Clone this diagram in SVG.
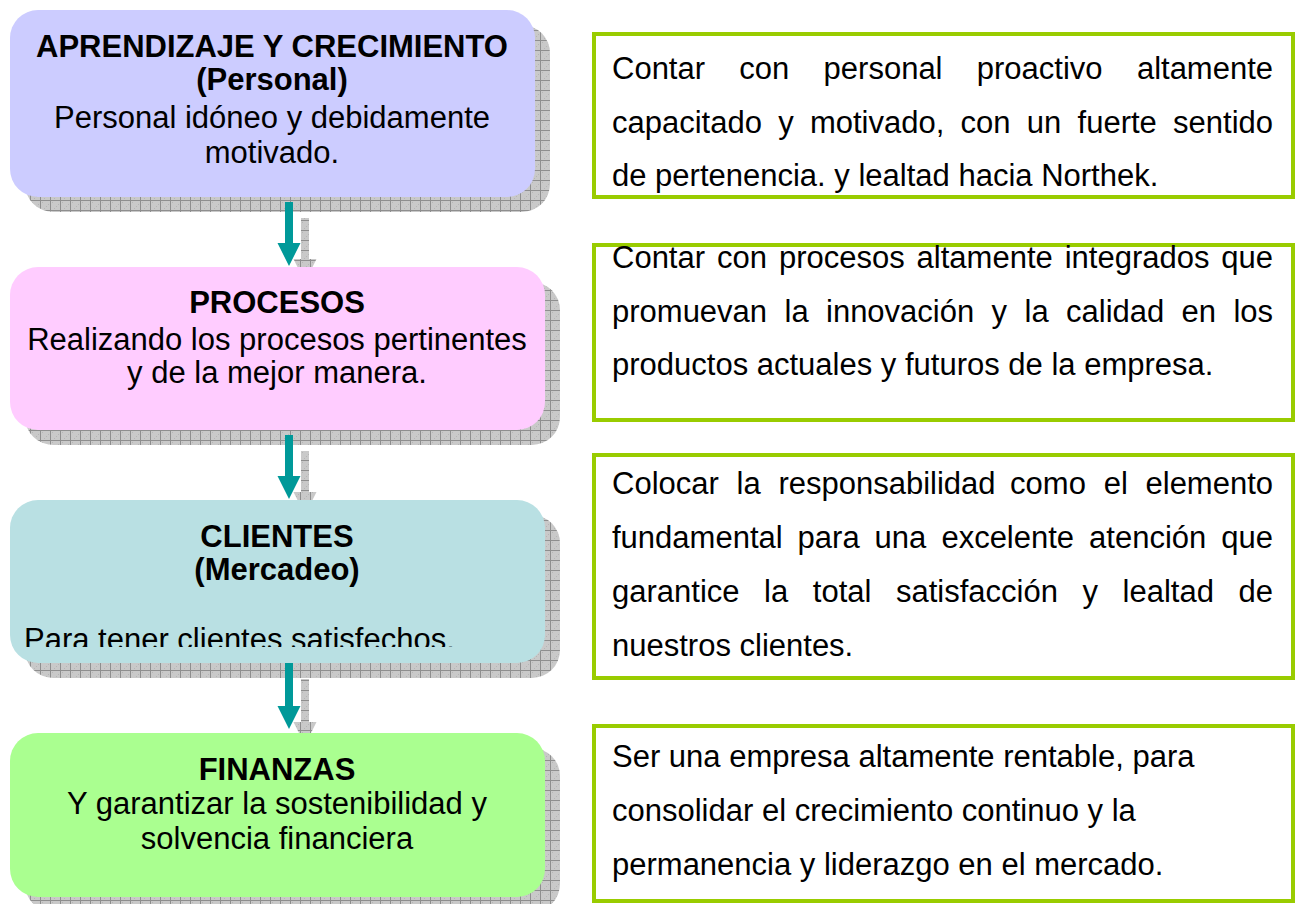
<svg xmlns="http://www.w3.org/2000/svg" width="1298" height="904" viewBox="0 0 1298 904">
<defs>
<pattern id="grid" patternUnits="userSpaceOnUse" width="10" height="10">
<rect width="10" height="10" fill="#c9c9c9"/>
<rect x="2" y="2" width="1" height="1" fill="#b5b5b5"/><rect x="6" y="6" width="1" height="1" fill="#b5b5b5"/>
<rect x="4" y="8" width="1" height="1" fill="#b5b5b5"/><rect x="8" y="4" width="1" height="1" fill="#b5b5b5"/>
<path d="M0 0.5H10M0.5 0V10" stroke="#8e8e8e" stroke-width="1"/>
</pattern>
<clipPath id="clipC"><rect x="10" y="500" width="535" height="147"/></clipPath>
</defs>
<style>
.t{font-family:"Liberation Sans",Arial,sans-serif;font-size:31px;fill:#000}
.b{font-weight:bold}
.c{text-anchor:middle}
.sh{fill:url(#grid)}
.obj{fill:#fff;stroke:#99cc00;stroke-width:4}
.arr{fill:#009999}
</style>
<rect width="1298" height="904" fill="#fff"/>

<g id="node-aprendizaje">
<rect class="sh" x="25" y="25" width="525" height="187" rx="28"/>
<rect x="10" y="10" width="525" height="187" rx="28" fill="#ccccff"/>
<text class="t b c" x="272" y="57">APRENDIZAJE Y CRECIMIENTO</text>
<text class="t b c" x="272" y="90">(Personal)</text>
<text class="t c" x="272" y="128">Personal idóneo y debidamente</text>
<text class="t c" x="272" y="163">motivado.</text>
</g>

<g id="node-procesos">
<rect class="sh" x="25" y="282" width="535" height="163" rx="28"/>
<rect x="10" y="267" width="535" height="163" rx="28" fill="#ffccff"/>
<text class="t b c" x="277" y="313">PROCESOS</text>
<text class="t c" x="277" y="350">Realizando los procesos pertinentes</text>
<text class="t c" x="277" y="383">y de la mejor manera.</text>
</g>

<g id="node-clientes">
<rect class="sh" x="25" y="515" width="535" height="163" rx="28"/>
<rect x="10" y="500" width="535" height="163" rx="28" fill="#b9e0e3"/>
<text class="t b c" x="277" y="547">CLIENTES</text>
<text class="t b c" x="277" y="580">(Mercadeo)</text>
<text class="t" x="24" y="650" clip-path="url(#clipC)">Para tener clientes satisfechos.</text>
</g>

<g id="node-finanzas">
<rect class="sh" x="25" y="748" width="535" height="164" rx="28"/>
<rect x="10" y="733" width="535" height="164" rx="28" fill="#aaff90"/>
<text class="t b c" x="277" y="780">FINANZAS</text>
<text class="t c" x="277" y="814">Y garantizar la sostenibilidad y</text>
<text class="t c" x="277" y="849">solvencia financiera</text>
</g>

<g id="obj-personal">
<rect class="obj" x="594" y="34" width="699" height="163"/>
<text class="t" y="79"><tspan x="612">Contar</tspan> <tspan x="739.3">con</tspan> <tspan x="823.6">personal</tspan> <tspan x="976.8">proactivo</tspan> <tspan x="1136.9">altamente</tspan></text>
<text class="t" y="133"><tspan x="612">capacitado</tspan> <tspan x="778.2">y</tspan> <tspan x="809.9">motivado,</tspan> <tspan x="960.6">con</tspan> <tspan x="1026.8">un</tspan> <tspan x="1077.6">fuerte</tspan> <tspan x="1173.1">sentido</tspan></text>
<text class="t" x="612" y="186">de pertenencia. y lealtad hacia Northek.</text>
</g>

<g id="obj-procesos">
<rect class="obj" x="594" y="245" width="699" height="175"/>
<text class="t" y="268"><tspan x="612">Contar</tspan> <tspan x="716.9">con</tspan> <tspan x="778.9">procesos</tspan> <tspan x="916.6">altamente</tspan> <tspan x="1064.7">integrados</tspan> <tspan x="1221.3">que</tspan></text>
<text class="t" y="322"><tspan x="612">promuevan</tspan> <tspan x="784.5">la</tspan> <tspan x="826">innovación</tspan> <tspan x="991.6">y</tspan> <tspan x="1024.5">la</tspan> <tspan x="1066">calidad</tspan> <tspan x="1181.5">en</tspan> <tspan x="1233.4">los</tspan></text>
<text class="t" x="612" y="375">productos actuales y futuros de la empresa.</text>
</g>

<g id="obj-clientes">
<rect class="obj" x="594" y="455" width="699" height="223"/>
<text class="t" y="494"><tspan x="612">Colocar</tspan> <tspan x="736.5">la</tspan> <tspan x="778.4">responsabilidad</tspan> <tspan x="1010.1">como</tspan> <tspan x="1103.7">el</tspan> <tspan x="1145.5">elemento</tspan></text>
<text class="t" y="548"><tspan x="612">fundamental</tspan> <tspan x="797.6">para</tspan> <tspan x="874.6">una</tspan> <tspan x="941.4">excelente</tspan> <tspan x="1089.1">atención</tspan> <tspan x="1221.3">que</tspan></text>
<text class="t" y="602"><tspan x="612">garantice</tspan> <tspan x="764.1">la</tspan> <tspan x="812.8">total</tspan> <tspan x="896">satisfacción</tspan> <tspan x="1082.5">y</tspan> <tspan x="1122.6">lealtad</tspan> <tspan x="1238.5">de</tspan></text>
<text class="t" x="612" y="656">nuestros clientes.</text>
</g>

<g id="obj-finanzas">
<rect class="obj" x="594" y="726" width="699" height="175"/>
<text class="t" x="612" y="767">Ser una empresa altamente rentable, para</text>
<text class="t" x="612" y="821">consolidar el crecimiento continuo y la</text>
<text class="t" x="612" y="875">permanencia y liderazgo en el mercado.</text>
</g>

<g id="connectors">
<path class="sh" d="M301 218H309V259H316.5L312.5 267H297.5L293.5 259H301Z"/>
<path class="arr" d="M285 202H293V243H300.5L289 266L277.5 243H285Z"/>
<path class="sh" d="M301 451H309V492H316.5L312.5 500H297.5L293.5 492H301Z"/>
<path class="arr" d="M285 435H293V476H300.5L289 499L277.5 476H285Z"/>
<path class="sh" d="M301 679H309V722H316.5L311 733H299L293.5 722H301Z"/>
<path class="arr" d="M285 663H293V706H300.5L289 729L277.5 706H285Z"/>
</g>
</svg>
